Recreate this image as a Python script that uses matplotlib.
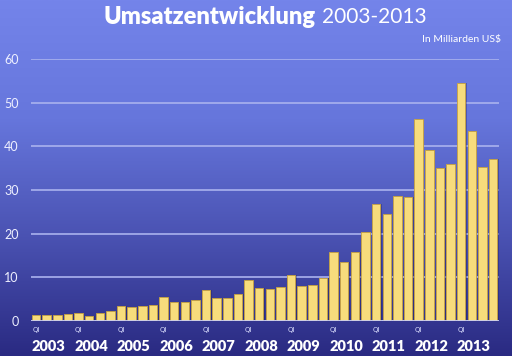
import numpy as np
import matplotlib
matplotlib.use("Agg")
import matplotlib.pyplot as plt
from matplotlib.colors import LinearSegmentedColormap

# quarterly revenue, billions USD
years = ["2003", "2004", "2005", "2006", "2007", "2008",
         "2009", "2010", "2011", "2012", "2013"]
revenue = [1.4, 1.4, 1.4, 1.7, 1.9, 1.2, 1.9, 2.3,
           3.4, 3.3, 3.5, 3.6, 5.5, 4.3, 4.3, 4.8,
           7.0, 5.2, 5.3, 6.1, 9.5, 7.5, 7.3, 7.9,
           10.6, 8.1, 8.3, 9.8, 15.7, 13.6, 15.7, 20.3,
           26.8, 24.6, 28.6, 28.3, 46.2, 39.1, 35.1, 36.0,
           54.5, 43.6, 35.3, 37.0]
yticks = [0, 10, 20, 30, 40, 50, 60]

plt.rcParams['font.family'] = ['Lato', 'DejaVu Sans']

fig = plt.figure(figsize=(5.12, 3.56), dpi=100)

# background gradient
bg = fig.add_axes([0, 0, 1, 1], zorder=0)
cmap = LinearSegmentedColormap.from_list(
    "bg", ["#2a2a82", "#4a52b2", "#6676dc", "#7484ea"])
grad = np.linspace(0, 1, 256).reshape(-1, 1)
bg.imshow(grad, aspect="auto", cmap=cmap, origin="lower", extent=[0, 1, 0, 1])
bg.axis("off")

ax = fig.add_axes([31 / 512, 35 / 356, 468 / 512, 262 / 356], zorder=1)
ax.patch.set_alpha(0)

x = np.arange(len(revenue))
# soft shadow then bars
ax.bar(x + 0.12, revenue, width=0.82, color="#1c1c60", alpha=0.35, zorder=2)
ax.bar(x, revenue, width=0.8, color="#f7dc7c", edgecolor="#c9a440",
       linewidth=0.6, zorder=3)

ax.set_xlim(-0.47, 43.56)
ax.set_ylim(0, 60)
ax.set_yticks(yticks)
ax.yaxis.grid(True, color="#aab2ee", linewidth=1.2, zorder=1)
ax.set_axisbelow(True)
ax.tick_params(axis="y", length=0, pad=9, labelsize=9, labelcolor="#eef0ff")
ax.set_xticks([])
for s in ax.spines.values():
    s.set_visible(False)
ax.axhline(0, color="#c8cdf5", linewidth=1.2, zorder=4)

for i, yr in enumerate(years):
    ax.text(4 * i, -1.4, "QI", ha="center", va="top", fontsize=5,
            color="#dde0ff", family="DejaVu Sans")
    ax.text(4 * i + 1.2, -4.4, yr, ha="center", va="top", fontsize=10.5,
            fontweight="heavy", color="white")

fig.text(0.617, 0.952, "Umsatzentwicklung", ha="right", va="center",
         fontsize=17, fontweight="heavy", color="white")
fig.text(0.628, 0.952, "2003-2013", ha="left", va="center",
         fontsize=15, color="white")
fig.text(0.979, 0.888, "In Milliarden US$", ha="right", va="center",
         fontsize=7.5, color="white")

fig.savefig("out.png", dpi=100)
